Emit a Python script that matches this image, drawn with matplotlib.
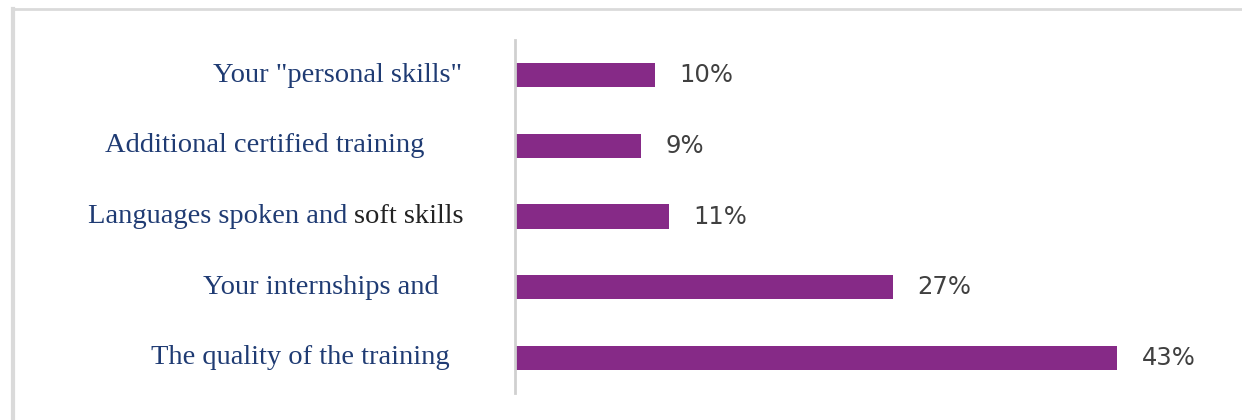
import numpy as np
import matplotlib
matplotlib.use("Agg")
import matplotlib.pyplot as plt
from matplotlib.transforms import blended_transform_factory
from matplotlib.patches import Circle

#%% Data (top to bottom)
labels = ['Your "personal skills"', 'Additional certified training',
          'Languages spoken and soft skills', 'Your internships and',
          'The quality of the training']
values = [10, 9, 11, 27, 43]

# right edge of each category label, in pixels (labels are not aligned in the original)
label_right_px = [462, 424, 464, 439, 450]

W, H = 1242, 420
fig = plt.figure(figsize=(W / 100, H / 100), dpi=100)
ax = fig.add_axes([515 / W, 27 / H, 700 / W, 353 / H])

ypos = np.arange(len(values))
ax.barh(ypos, values, height=0.34, color='#862A87')
ax.set_xlim(0, 700 / 14.0)
ax.set_ylim(len(values) - 0.5, -0.5)

for s in ['top', 'right', 'bottom']:
    ax.spines[s].set_visible(False)
ax.spines['left'].set_color('#D0D0D0')
ax.spines['left'].set_linewidth(2)
ax.set_xticks([])
ax.set_yticks([])

# value labels
for y, v in zip(ypos, values):
    ax.text(v + 1.75, y, f'{v}%', va='center', ha='left', fontsize=17.5,
            color='#404040', family='DejaVu Sans')

# category labels
trans = blended_transform_factory(fig.transFigure, ax.transData)
navy = '#1F3B73'
fs = 20.5
fam = 'Liberation Serif'
fig.canvas.draw()
renderer = fig.canvas.get_renderer()
for y, lab, xr in zip(ypos, labels, label_right_px):
    if lab.startswith('Languages'):
        # "soft skills" is black in the original
        t2 = ax.text(xr / W, y, 'soft skills', transform=trans, ha='right',
                     va='center', fontsize=fs, color='#222222', family=fam)
        x0 = t2.get_window_extent(renderer).x0 - fs * 100 / 72 * 0.25
        ax.text(x0 / W, y, 'Languages spoken and', transform=trans,
                ha='right', va='center', fontsize=fs, color=navy, family=fam)
    else:
        ax.text(xr / W, y, lab, transform=trans, ha='right', va='center',
                fontsize=fs, color=navy, family=fam)

# frame of the original screenshot
fig.add_artist(plt.Line2D([12 / W, 1], [1 - 9 / H, 1 - 9 / H], transform=fig.transFigure,
                          color='#DADADA', lw=2))
fig.add_artist(plt.Line2D([13 / W, 13 / W], [0, 1 - 9 / H], transform=fig.transFigure,
                          color='#DADADA', lw=3))
fig.add_artist(Circle((4 / W, 1 + 6 / H), 10 / W, transform=fig.transFigure,
                      color='#D9262B', clip_on=False))

fig.savefig('out.png', dpi=100)
